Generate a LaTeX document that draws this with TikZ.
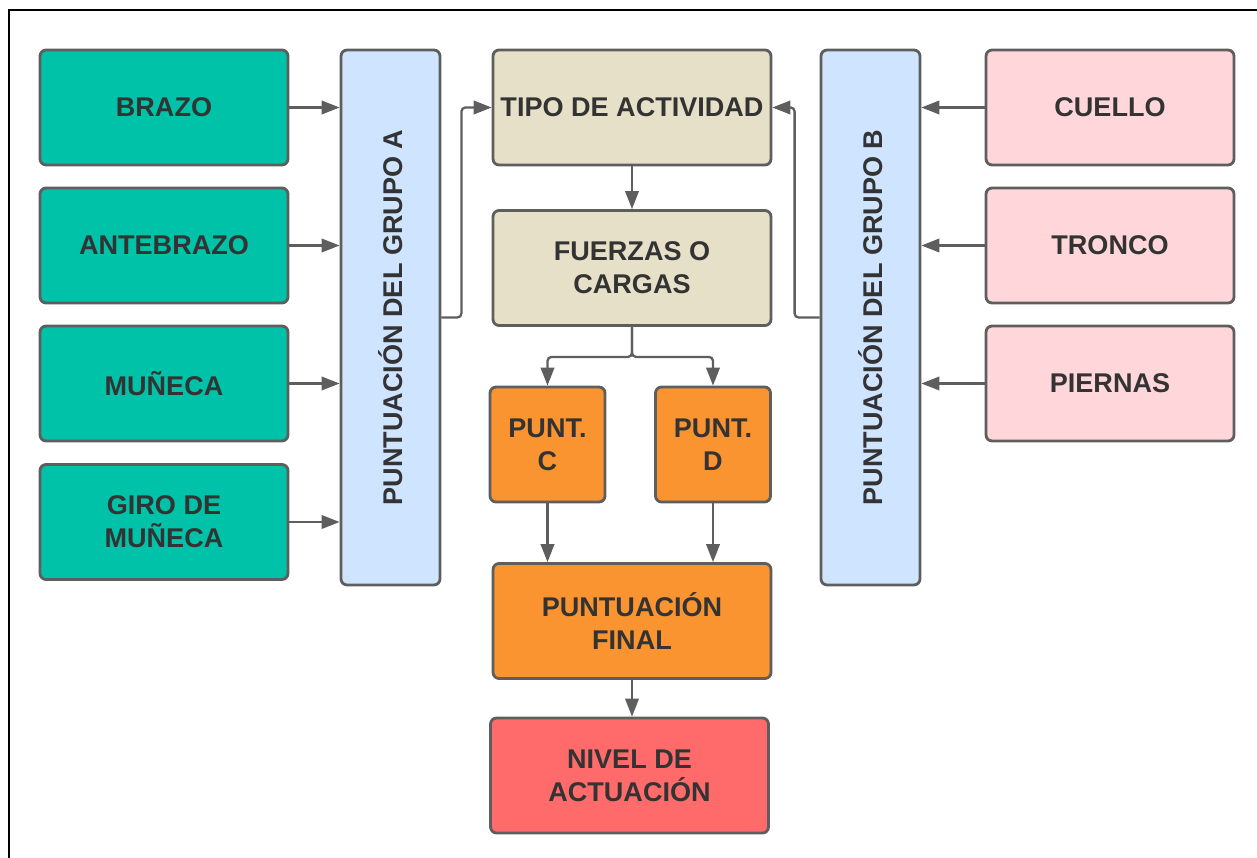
\documentclass[tikz,border=0pt]{standalone}
\usepackage{fontspec}
\setmainfont{Liberation Sans}
\usetikzlibrary{arrows.meta}
\definecolor{rebaLine}{HTML}{5E5E5E}
\definecolor{rebaText}{HTML}{333333}
\definecolor{rebaGreen}{HTML}{00C2A8}
\definecolor{rebaBlue}{HTML}{CFE4FF}
\definecolor{rebaTan}{HTML}{E6E0C8}
\definecolor{rebaOrange}{HTML}{F99431}
\definecolor{rebaRed}{HTML}{FF6B6B}
\definecolor{rebaPink}{HTML}{FFD6D9}
\begin{document}
\begin{tikzpicture}[x=0.02cm,y=-0.02cm,
    rebaBk/.style={rectangle,rounded corners=0.12cm,draw=rebaLine,line width=1.6pt,
      text=rebaText,align=center,inner sep=0pt,
      font=\fontsize{15.4}{18.7}\selectfont\bfseries},
    rebaIn/.style={rebaBk,fill=rebaGreen,minimum width=4.96cm,minimum height=2.3cm},
    rebaOut/.style={rebaBk,fill=rebaPink,minimum width=4.96cm,minimum height=2.3cm},
    rebaGrp/.style={rebaBk,fill=rebaBlue,minimum width=1.98cm,minimum height=10.7cm},
    rebaMid/.style={rebaBk,minimum width=5.56cm,minimum height=2.3cm},
    rebaSq/.style={rebaBk,fill=rebaOrange,minimum width=2.3cm,minimum height=2.3cm},
    rebaArr/.style={-{Triangle[length=0.36cm,width=0.27cm]},draw=rebaLine,line width=1.3pt,rounded corners=0.08cm},
]
\useasboundingbox (0,0) rectangle (1257,858);
\draw[line width=1.7pt] (9,858) -- (9,10) -- (1257,10);
% grupo A
\node[rebaIn] (brazo) at (164,107.5) {BRAZO};
\node[rebaIn] (antebrazo) at (164,245.5) {ANTEBRAZO};
\node[rebaIn] (muneca) at (164,383.5) {MUÑECA};
\node[rebaIn] (giro) at (164,522) {GIRO DE\\MUÑECA};
\node[rebaGrp] (grpA) at (390.5,317.5) {\rotatebox{90}{PUNTUACIÓN DEL GRUPO A}};
% centro
\node[rebaMid,fill=rebaTan] (tipo) at (632,107.5) {TIPO DE ACTIVIDAD};
\node[rebaMid,fill=rebaTan] (fuerzas) at (632,268) {FUERZAS O\\CARGAS};
\node[rebaSq] (puntC) at (547.5,444.5) {PUNT.\\C};
\node[rebaSq] (puntD) at (713,444.5) {PUNT.\\D};
\node[rebaMid,fill=rebaOrange] (final) at (632,621) {PUNTUACIÓN\\FINAL};
\node[rebaMid,fill=rebaRed] (nivel) at (629.5,775.5) {NIVEL DE\\ACTUACIÓN};
% grupo B
\node[rebaGrp] (grpB) at (870.5,317.5) {\rotatebox{90}{PUNTUACIÓN DEL GRUPO B}};
\node[rebaOut] (cuello) at (1110,107.5) {CUELLO};
\node[rebaOut] (tronco) at (1110,245.5) {TRONCO};
\node[rebaOut] (piernas) at (1110,383.5) {PIERNAS};
% conectores
\foreach \n in {brazo,antebrazo,muneca,giro}
  \draw[rebaArr] (\n.east) -- (\n.east -| grpA.west);
\foreach \n in {cuello,tronco,piernas}
  \draw[rebaArr] (\n.west) -- (\n.west -| grpB.east);
\draw[rebaArr] (grpA.east) -- ++(20,0) |- (tipo.west);
\draw[rebaArr] (grpB.west) -- ++(-25,0) |- (tipo.east);
\draw[rebaArr] (tipo) -- (fuerzas);
\draw[rebaArr] (fuerzas.south) -- ++(0,30) -| (puntC.north);
\draw[rebaArr] (fuerzas.south) -- ++(0,30) -| (puntD.north);
\draw[rebaArr] (puntC.south) -- (puntC.south |- final.north);
\draw[rebaArr] (puntD.south) -- (puntD.south |- final.north);
\draw[rebaArr] (final.south) -- (final.south |- nivel.north);
\end{tikzpicture}
\end{document}
